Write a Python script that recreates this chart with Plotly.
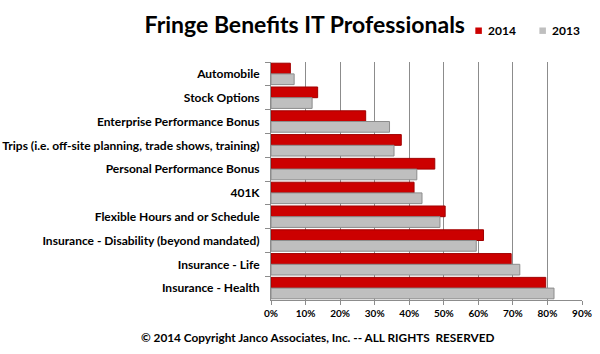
import plotly.graph_objects as go

categories = ["Automobile", "Stock Options", "Enterprise Performance Bonus",
              "Trips (i.e. off-site planning, trade shows, training)",
              "Personal Performance Bonus", "401K", "Flexible Hours and or Schedule",
              "Insurance - Disability (beyond mandated)", "Insurance - Life",
              "Insurance - Health"]
v2014 = [0.056, 0.135, 0.274, 0.377, 0.474, 0.414, 0.504, 0.615, 0.695, 0.795]
v2013 = [0.067, 0.119, 0.343, 0.356, 0.422, 0.437, 0.489, 0.594, 0.720, 0.819]
tick_vals = [0, 0.1, 0.2, 0.3, 0.4, 0.5, 0.6, 0.7, 0.8, 0.9]
tick_text = ["0%", "10%", "20%", "30%", "40%", "50%", "60%", "70%", "80%", "90%"]
series_names = ["2014", "2013"]
colors = ["#CC0000", "#BFBFBF"]
edge_colors = ["#A00000", "#8C8C8C"]

FONT = "Lato"

fig = go.Figure()
for name, vals, c, ec in zip(series_names, [v2014, v2013], colors, edge_colors):
    fig.add_trace(go.Bar(y=categories, x=vals, orientation="h", name=name,
                         marker=dict(color=c, line=dict(color=ec, width=1)),
                         showlegend=False))

fig.update_layout(
    width=600, height=354,
    margin=dict(l=271, r=18, t=62, b=54, autoexpand=False),
    paper_bgcolor="white", plot_bgcolor="white",
    barmode="group", bargap=0.1, bargroupgap=0.0,
    font=dict(family=FONT, size=11, color="black"),
    title=dict(text="<b>Fringe Benefits IT Professionals</b>", x=0.508, xanchor="center",
               y=0.929, yanchor="middle", font=dict(family=FONT, size=23, color="black")),
    showlegend=False,
)
fig.update_xaxes(range=[0, 0.9], tickvals=tick_vals, ticktext=tick_text,
                 showgrid=True, gridcolor="#8C8C8C", gridwidth=1,
                 showline=True, linecolor="#8C8C8C", ticks="outside", ticklen=4,
                 tickcolor="#8C8C8C",
                 tickfont=dict(family=FONT, size=10, color="black", weight="bold"),
                 zeroline=False, fixedrange=True, automargin=False)
fig.update_yaxes(autorange="reversed", showline=True, linecolor="#8C8C8C",
                 ticks="outside", ticklen=5, tickcolor="#8C8C8C", tickson="boundaries",
                 ticklabelstandoff=8,
                 tickfont=dict(family=FONT, size=12, color="black", weight="bold"),
                 showgrid=False, fixedrange=True, automargin=False)

# legend keys (manual, placed like the original's top-right legend)
legend_key_x = [0.657, 0.863]
for name, c, kx in zip(series_names, colors, legend_key_x):
    fig.add_shape(type="rect", xref="paper", yref="paper",
                  x0=kx, x1=kx + 0.021, y0=1.118, y1=1.145,
                  fillcolor=c, line=dict(width=0))
    fig.add_annotation(text=name, xref="paper", yref="paper", x=kx + 0.033, y=1.133,
                       xanchor="left", yanchor="middle", showarrow=False,
                       font=dict(family=FONT, size=12, color="black", weight="bold"))

fig.add_annotation(text="<b>© 2014 Copyright Janco Associates, Inc. -- ALL RIGHTS  RESERVED</b>",
                   xref="paper", yref="paper", x=0.148, y=-0.118, xanchor="center",
                   yanchor="top", showarrow=False,
                   font=dict(family=FONT, size=11.8, color="black"))
fig.write_html("out.html")
